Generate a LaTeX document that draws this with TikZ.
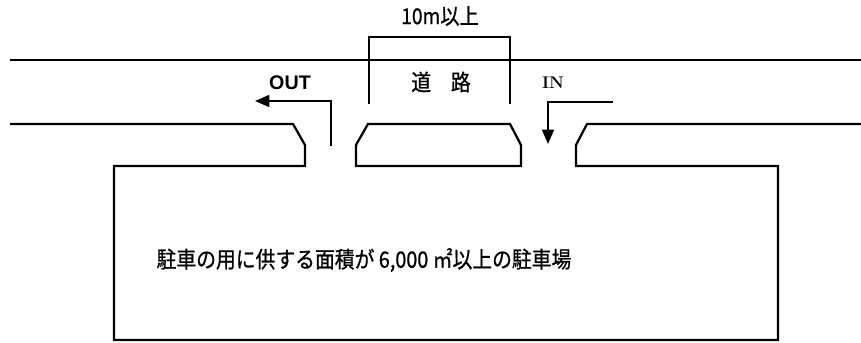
\documentclass[tikz,border=0pt]{standalone}
\usepackage{fontspec}
\newfontfamily\jp[FakeStretch=0.88, FakeBold=0.8]{Noto Sans CJK JP}
\newfontfamily\lat{Liberation Sans}
\usetikzlibrary{arrows.meta}

\begin{document}
\begin{tikzpicture}[
        x=0.025cm, y=-0.025cm,
        edge/.style={line width=1.6pt},
        brace/.style={line width=1.1pt},
        flow/.style={line width=1.2pt, -{Triangle[length=3.6mm, width=3mm]}},
        jlabel/.style={font=\jp\fontsize{16}{18}\selectfont, inner sep=0pt},
      ]
        \useasboundingbox (0,0) rectangle (861,342);

        % road and parking lot
        \draw[edge] (10,60) -- (861,60);
        \draw[edge] (10,124) -- (293,124) -- (305,145) -- (305,166) -- (114,166) -- (114,340)
                    -- (778,340) -- (778,166) -- (576,166) -- (576,145) -- (587,124) -- (861,124);
        \draw[edge] (368,124) -- (510,124) -- (521,145) -- (521,166) -- (356,166) -- (356,145) -- cycle;

        % width mark
        \draw[brace] (369,104) -- (369,37) -- (510,37) -- (510,104);

        \node[jlabel, font=\jp\fontsize{15.5}{17}\selectfont] (widthlbl) at (440,16) {10m以上};
        \node[jlabel] (roadlbl) at (441,82) {道　路};
        \node[jlabel] (lotlbl)  at (364,260) {駐車の用に供する面積が 6,000 ㎡以上の駐車場};

        \node[inner sep=0pt, font=\lat\bfseries\fontsize{14}{16}\selectfont] (outlbl) at (290,83) {OUT};
        \node[inner sep=0pt, font=\fontsize{12}{14}\selectfont\bfseries] (inlbl) at (553,83) {IN};

        \coordinate (outA) at (331,146);
        \coordinate (outB) at (255,101);
        \coordinate (inA)  at (613,102);
        \coordinate (inB)  at (548,144);

        \draw[flow] (outA) |- (outB);
        \draw[flow] (inA)  -| (inB);
      \end{tikzpicture}
\end{document}
